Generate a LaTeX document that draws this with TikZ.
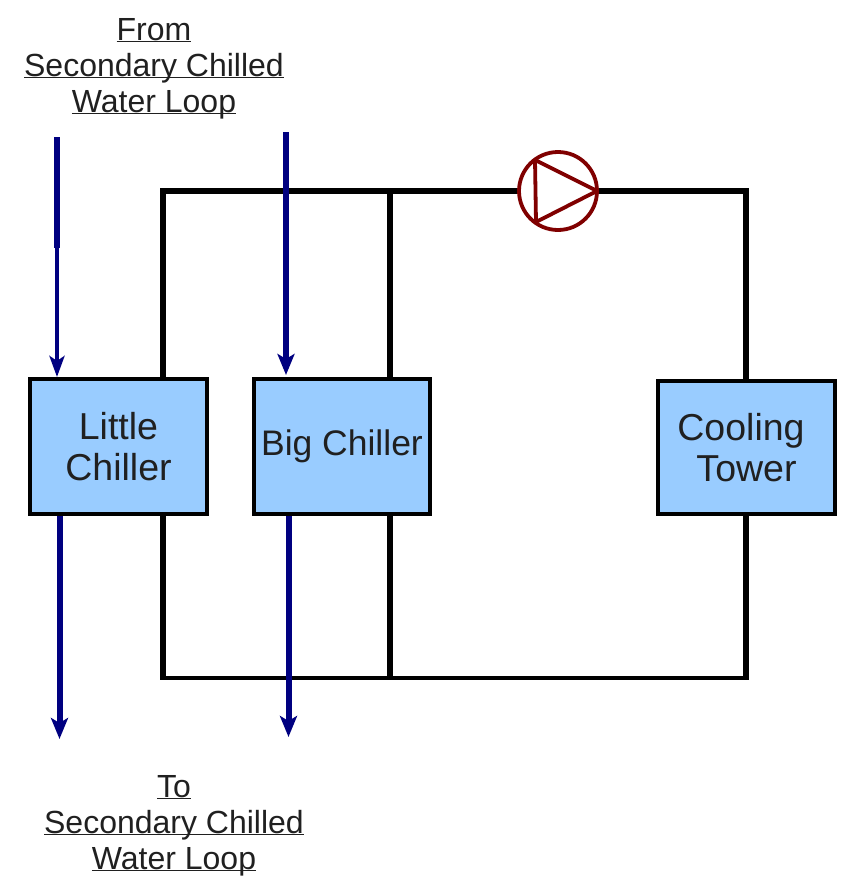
\documentclass[tikz,border=0pt]{standalone}
\usepackage{fontspec}
\setmainfont{Liberation Sans}
\usetikzlibrary{arrows.meta,calc}
\definecolor{boxblue}{HTML}{99CCFF}
\definecolor{flowblue}{HTML}{000080}
\definecolor{pumpred}{HTML}{800000}
\definecolor{inkdark}{HTML}{202020}
\newcommand{\ulabel}[1]{\underline{\smash{#1}}}
\tikzset{
  plant/.style={draw=black,line width=4pt,fill=boxblue,inner sep=0pt,align=center,text=inkdark,
    font=\fontsize{37.5}{41}\selectfont},
  pipe/.style={draw=black,line width=5.5pt},
  pipethin/.style={draw=black,line width=4.2pt},
  flow/.style={draw=flowblue,line width=6pt,-{Stealth[length=21pt,width=17pt,inset=5pt]}},
  flowthin/.style={draw=flowblue,line width=4pt,-{Stealth[length=21pt,width=15pt,inset=5pt]}},
  flowlabel/.style={align=center,inner sep=0pt,text=inkdark,font=\fontsize{32}{36}\selectfont},
  pumpbody/.style={draw=pumpred,line width=3.8pt,fill=white,circle,inner sep=0pt,minimum size=78pt}
}
\begin{document}
\begin{tikzpicture}[x=1pt,y=-1pt]
\useasboundingbox (0,0) rectangle (845,894);
\coordinate (tl) at (163,191);
\coordinate (tm) at (390,191);
\coordinate (tr) at (746,191);
\coordinate (bl) at (163,678);
\coordinate (bm) at (390,678);
\coordinate (br) at (746,678);
\draw[pipe] (bl) -- (tl) -- (tr) -- (br);
\draw[pipethin,shorten <=-2.75pt,shorten >=-2.75pt] (bl) -- (br);
\draw[pipe] (tm) -- (bm);
\node[plant,minimum width=177pt,minimum height=135pt] (little) at (118.5,446.5) {Little\\Chiller};
\node[plant,minimum width=176pt,minimum height=135pt,font=\fontsize{35.5}{41}\selectfont] (big) at (342,446.5) {Big Chiller};
\node[plant,minimum width=177pt,minimum height=133pt] (tower) at (746.5,447.5) {Cooling\hspace*{11pt}\\Tower};
\node[pumpbody] (pump) at (558,191) {};
\coordinate (pa) at (535,160);
\coordinate (pb) at (536,222);
\coordinate (pc) at (597,191);
\draw[pumpred,line width=3.8pt,line join=round] (pa) -- (pb) -- (pc) -- cycle;
\coordinate (inl) at (57,137);
\coordinate (inlb) at (57,248);
\coordinate (inb) at (286,132);
\coordinate (outl) at (59.5,739);
\coordinate (outb) at (288.5,737);
\draw[draw=flowblue,line width=6pt] (inl) -- (inlb);
\draw[flowthin] (inlb) -- (inlb |- little.north);
\draw[flow] (inb) -- ($(inb |- big.north)+(0,-2)$);
\draw[flow] (outl |- little.south) -- (outl);
\draw[flow] (outb |- big.south) -- (outb);
\node[flowlabel] (fromlab) at (154,77) {\ulabel{From}\\\ulabel{Secondary Chilled}\\\ulabel{Water Loop}};
\node[flowlabel] (tolab) at (174,834) {\ulabel{To}\\\ulabel{Secondary Chilled}\\\ulabel{Water Loop}};
\end{tikzpicture}
\end{document}
